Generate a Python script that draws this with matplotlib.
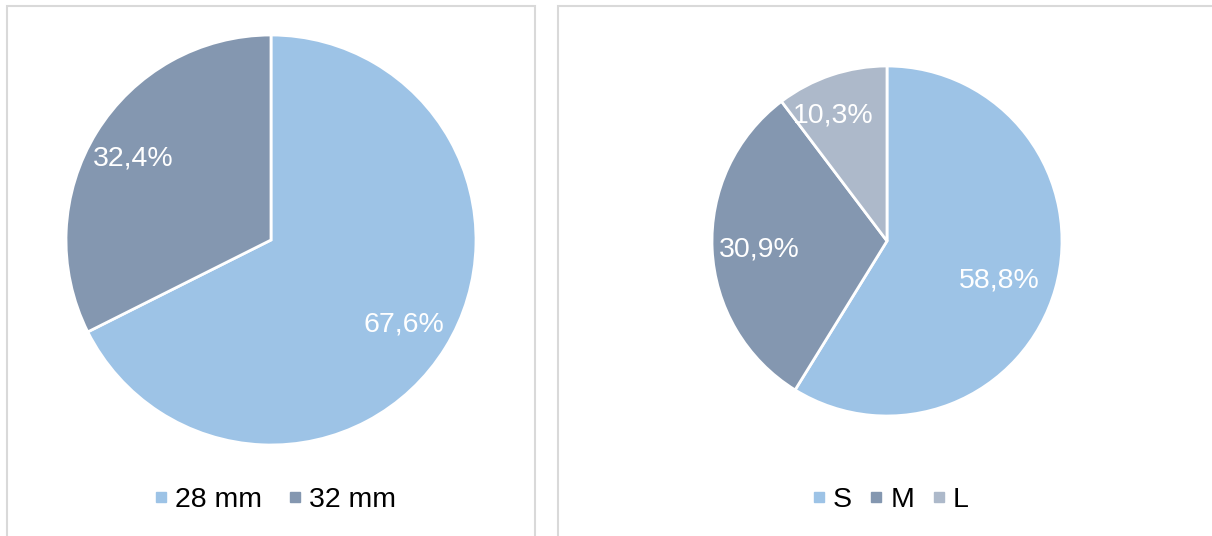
import numpy as np
import matplotlib
matplotlib.use("Agg")
import matplotlib.pyplot as plt
from matplotlib.patches import Rectangle
from matplotlib.lines import Line2D

plt.rcParams['font.family'] = ['Liberation Sans', 'DejaVu Sans']

# Tube diameter split
diam_labels = ['28 mm', '32 mm']
diam_values = [67.6, 32.4]

# Size split
size_labels = ['S', 'M', 'L']
size_values = [58.8, 30.9, 10.3]

light_blue = '#9DC3E6'
slate = '#8497B0'
pale_slate = '#ADB9CA'

W, H = 1212, 536
fig = plt.figure(figsize=(W / 100, H / 100), dpi=100)
fig.patch.set_facecolor('white')

# panel frames
border = '#D9D9D9'
fig.add_artist(Rectangle((7 / W, -0.1), (535 - 7) / W, (H - 6) / H + 0.1,
                         transform=fig.transFigure, fill=False,
                         edgecolor=border, linewidth=1.5))
fig.add_artist(Rectangle((558 / W, -0.1), (W - 558 + 20) / W, (H - 6) / H + 0.1,
                         transform=fig.transFigure, fill=False,
                         edgecolor=border, linewidth=1.5))


def pie_axes(cx, cy, r):
    ax = fig.add_axes([(cx - r) / W, (H - cy - r) / H, 2 * r / W, 2 * r / H])
    ax.set_axis_off()
    return ax


def draw_pie(ax, values, colors, dists, offsets):
    wedges, _ = ax.pie(values, colors=colors, startangle=90, counterclock=False,
                       radius=1, wedgeprops=dict(edgecolor='white', linewidth=2))
    for w, v, d, off in zip(wedges, values, dists, offsets):
        ang = np.deg2rad((w.theta1 + w.theta2) / 2 + off)
        ax.text(d * np.cos(ang), d * np.sin(ang), f"{v:.1f}%".replace('.', ','),
                ha='center', va='center', color='white', fontsize=20.5)
    ax.set_xlim(-1, 1)
    ax.set_ylim(-1, 1)
    return wedges


ax1 = pie_axes(271, 240, 205)
w1 = draw_pie(ax1, diam_values, [light_blue, slate], [0.77, 0.78], [-0.7, 1.1])

ax2 = pie_axes(887, 241, 175)
w2 = draw_pie(ax2, size_values, [light_blue, slate, pale_slate],
              [0.68, 0.73, 0.78], [-3.7, 0.9, 4.5])


def legend(labels, colors, cx, spacing):
    handles = [Line2D([], [], marker='s', linestyle='none', markersize=7.5,
                      markerfacecolor=c, markeredgecolor=c) for c in colors]
    fig.legend(handles, labels, loc='center', bbox_to_anchor=(cx / W, (H - 500) / H),
               ncol=len(labels), frameon=False, fontsize=20.5, handlelength=0.4,
               handletextpad=0.3, columnspacing=spacing, borderaxespad=0)


legend(diam_labels, [light_blue, slate], 276, 0.95)
legend(size_labels, [light_blue, slate, pale_slate], 891, 0.65)

fig.savefig('out.png', dpi=100, facecolor='white')
